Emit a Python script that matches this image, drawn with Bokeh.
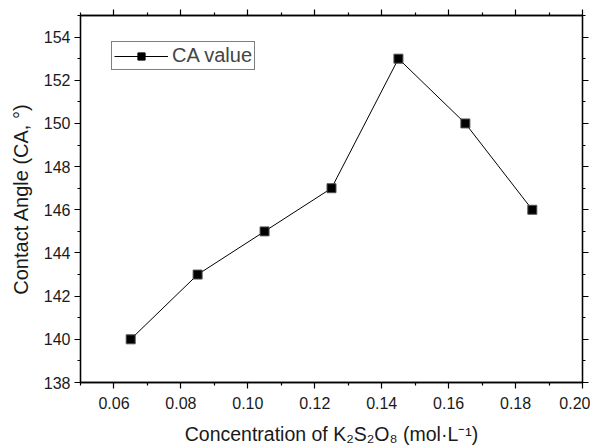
from bokeh.plotting import figure
from bokeh.models import LinearAxis, Range1d, Legend, LegendItem, FixedTicker
from bokeh.embed import file_html
from bokeh.resources import INLINE

conc = [0.065, 0.085, 0.105, 0.125, 0.145, 0.165, 0.185]
ca = [140, 143, 145, 147, 153, 150, 146]
x_ticks = [0.06, 0.08, 0.10, 0.12, 0.14, 0.16, 0.18, 0.20]
y_ticks = [138, 140, 142, 144, 146, 148, 150, 152, 154]
x_minor = [0.05, 0.07, 0.09, 0.11, 0.13, 0.15, 0.17, 0.19]
y_minor = [139, 141, 143, 145, 147, 149, 151, 153, 155]

FONT = "Liberation Sans"

p = figure(width=590, height=440, output_backend="svg", toolbar_location=None,
           x_range=Range1d(0.05, 0.20), y_range=Range1d(138, 155),
           x_axis_label="Concentration of K₂S₂O₈ (mol·L⁻¹)",
           y_axis_label="Contact Angle (CA, °)",
           min_border_left=80, min_border_top=15, min_border_right=8, min_border_bottom=58)
p.frame_width = 502
p.frame_height = 367
p.grid.visible = False
p.outline_line_color = "black"
p.outline_line_width = 1.3
p.background_fill_color = "white"
p.border_fill_color = "white"


def style(ax):
    ax.axis_line_color = "black"
    ax.axis_line_width = 1.3
    ax.major_tick_in = 0
    ax.major_tick_out = 6
    ax.minor_tick_in = 0
    ax.minor_tick_out = 3
    ax.major_tick_line_color = "black"
    ax.minor_tick_line_color = "black"
    ax.major_tick_line_width = 1.2
    ax.minor_tick_line_width = 1.2
    ax.major_label_text_font = FONT
    ax.major_label_text_font_size = "16px"
    ax.major_label_text_color = "#1a1a1a"
    ax.axis_label_text_font = FONT
    ax.axis_label_text_font_style = "normal"
    ax.axis_label_text_color = "#1a1a1a"


p.xaxis.ticker = FixedTicker(ticks=x_ticks, minor_ticks=x_minor)
p.yaxis.ticker = FixedTicker(ticks=y_ticks, minor_ticks=y_minor)
p.xaxis.major_label_overrides = {t: f"{t:.2f}" for t in x_ticks}
style(p.xaxis[0])
style(p.yaxis[0])
p.xaxis.axis_label_text_font_size = "19.5px"
p.yaxis.axis_label_text_font_size = "20px"
p.xaxis.major_label_standoff = 8
p.xaxis.axis_label_standoff = 11
p.yaxis.major_label_standoff = 4
p.yaxis.axis_label_standoff = 9

top = LinearAxis(ticker=FixedTicker(ticks=x_ticks, minor_ticks=x_minor))
style(top)
top.major_label_overrides = {t: "" for t in x_ticks}
top.major_label_standoff = 0
p.add_layout(top, "above")
right = LinearAxis(ticker=FixedTicker(ticks=y_ticks, minor_ticks=y_minor))
style(right)
right.major_label_overrides = {t: "" for t in y_ticks}
right.major_label_standoff = 0
p.add_layout(right, "right")

ln = p.line(conc, ca, line_color="black", line_width=1)
# smaller marker used for the legend glyph; hidden beneath the larger plot markers
leg_marker = p.scatter(conc, ca, marker="square", size=7, fill_color="black", line_color="black")
sc = p.scatter(conc, ca, marker="square", size=9, fill_color="black", line_color="#555555")

legend = Legend(items=[LegendItem(label="CA value", renderers=[ln, leg_marker])],
                location=(31, 312), label_text_font=FONT, label_text_font_size="20px",
                glyph_width=54, glyph_height=18, padding=2, spacing=0, margin=0,
                border_line_color="black", border_line_width=1,
                label_standoff=4, background_fill_alpha=1)
p.add_layout(legend)

open("out.html", "w").write(file_html(p, INLINE))
